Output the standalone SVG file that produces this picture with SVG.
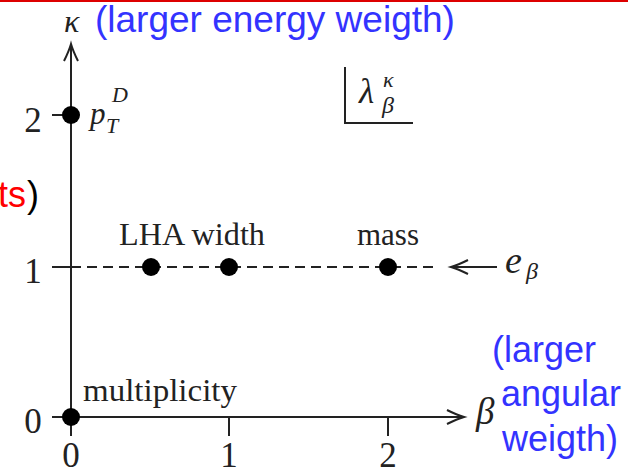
<svg xmlns="http://www.w3.org/2000/svg" width="628" height="473" viewBox="0 0 628 473">
<style>
.ax{stroke:#222;stroke-width:2;fill:none}
.dash{stroke:#222;stroke-width:2.2;fill:none;stroke-dasharray:10 6}
.dot{fill:#000}
.serif{font-family:"Liberation Serif","Times New Roman",serif;fill:#222}
.it{font-style:italic}
.lbl{font-size:31px}
.num{font-size:35px}
.blue{font-family:"Liberation Sans",Arial,sans-serif;fill:#3333ff}
</style>
<defs>
<marker id="arr" markerUnits="userSpaceOnUse" markerWidth="20" markerHeight="20" refX="0" refY="0" orient="auto" overflow="visible">
<path d="M-17,-7 Q-7,-2 0,0 Q-7,2 -17,7" fill="none" stroke="#222" stroke-width="2"/>
</marker>
</defs>
<rect x="0" y="0" width="628" height="2" fill="#dd0000"/>
<g id="connectors">
<line class="ax" x1="71" y1="436" x2="71" y2="44" marker-end="url(#arr)"/>
<line class="ax" x1="52" y1="417" x2="464" y2="417" marker-end="url(#arr)"/>
<line class="ax" x1="52" y1="115" x2="71" y2="115"/>
<line class="ax" x1="52" y1="267" x2="71" y2="267"/>
<line class="ax" x1="229" y1="417" x2="229" y2="436"/>
<line class="ax" x1="388" y1="417" x2="388" y2="436"/>
<line class="dash" x1="71" y1="267" x2="435" y2="267"/>
<line class="ax" x1="497" y1="267" x2="451" y2="267" marker-end="url(#arr)"/>
</g>
<g id="axis-labels">
<text class="serif num" x="33" y="132" text-anchor="middle">2</text>
<text class="serif num" x="33" y="283" text-anchor="middle">1</text>
<text class="serif num" x="33" y="433" text-anchor="middle">0</text>
<text class="serif num" x="71" y="467" text-anchor="middle">0</text>
<text class="serif num" x="229" y="467" text-anchor="middle">1</text>
<text class="serif num" x="388" y="467" text-anchor="middle">2</text>
<text class="serif it" x="64" y="32" font-size="32">κ</text>
<text class="serif it" x="476" y="424" font-size="37">β</text>
</g>
<g id="title-kappa">
<text class="blue" x="95" y="32" font-size="37">(larger energy weigth)</text>
</g>
<g id="title-beta">
<text class="blue" x="492" y="362" font-size="36">(larger</text>
<text class="blue" x="501" y="406" font-size="36">angular</text>
<text class="blue" x="502" y="451" font-size="36">weigth)</text>
</g>
<g id="cut-text">
<text font-family="Liberation Sans,Arial,sans-serif" font-size="36" x="26" y="207" text-anchor="end" fill="#ff0000">ts</text>
<text font-family="Liberation Sans,Arial,sans-serif" font-size="36" x="27" y="207" fill="#000">)</text>
</g>
<g id="legend">
<path class="ax" d="M345,67 V123 H413"/>
<text class="serif it" x="359" y="103" font-size="35">λ</text>
<text class="serif it" x="383" y="87" font-size="22">κ</text>
<text class="serif it" x="382" y="113" font-size="24">β</text>
</g>
<g id="node-pTD">
<circle class="dot" cx="71" cy="115" r="9"/>
<text class="serif it" x="90" y="124" font-size="31">p</text>
<text class="serif it" x="112" y="102" font-size="22">D</text>
<text class="serif it" x="106" y="133" font-size="22">T</text>
</g>
<g id="node-LHA">
<circle class="dot" cx="151" cy="267" r="9"/>
</g>
<g id="node-width">
<circle class="dot" cx="229" cy="267" r="9"/>
<text class="serif lbl" x="119" y="245" textLength="146" lengthAdjust="spacingAndGlyphs">LHA width</text>
</g>
<g id="node-mass">
<circle class="dot" cx="388" cy="267" r="9"/>
<text class="serif lbl" x="357" y="245" textLength="62" lengthAdjust="spacingAndGlyphs">mass</text>
</g>
<g id="node-multiplicity">
<circle class="dot" cx="71" cy="417" r="9"/>
<text class="serif lbl" x="83" y="401" textLength="154" lengthAdjust="spacingAndGlyphs">multiplicity</text>
</g>
<g id="node-ebeta">
<text class="serif it" x="505" y="273" font-size="38">e</text>
<text class="serif it" x="526" y="279" font-size="24">β</text>
</g>
</svg>
